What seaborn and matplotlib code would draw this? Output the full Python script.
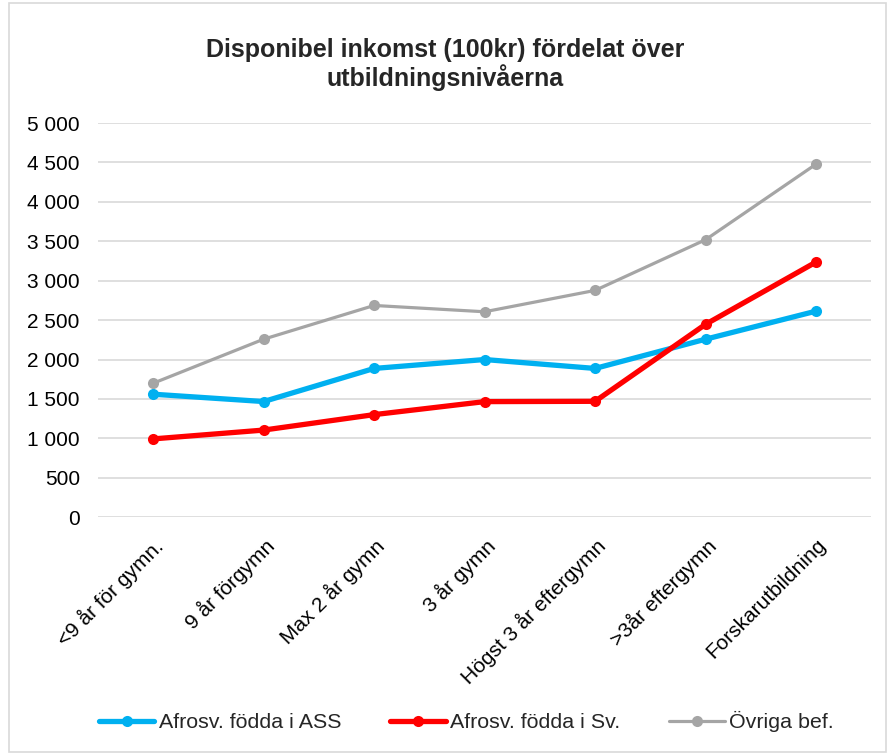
import seaborn as sns
import matplotlib.pyplot as plt
import pandas as pd
from matplotlib.ticker import FuncFormatter
from matplotlib.patches import Rectangle

# data
categories = ['<9 år för gymn.', '9 år förgymn', 'Max 2 år gymn', '3 år gymn',
              'Högst 3 år eftergymn', '>3år eftergymn', 'Forskarutbildning']
ass = [1560, 1467, 1887, 2000, 1887, 2258, 2614]
sv = [993, 1105, 1301, 1466, 1470, 2447, 3237]
ovriga = [1699, 2258, 2686, 2606, 2877, 3520, 4479]
series_names = ['Afrosv. födda i ASS', 'Afrosv. födda i Sv.', 'Övriga bef.']

colors = ['#00B0F0', '#FF0000', '#A5A5A5']
widths = [3.8, 3.8, 2.3]

if __name__ == '__main__':
    sns.set_style("white")
    plt.rcParams['font.family'] = ['Liberation Sans', 'DejaVu Sans']

    fig = plt.figure(figsize=(8.9, 7.55), dpi=100)
    ax = fig.add_axes([0.110, 0.315, 0.869, 0.522])

    # frame around the whole chart
    fig.patches.append(Rectangle((0.010, 0.004), 0.985, 0.992, transform=fig.transFigure,
                                 fill=False, edgecolor='#D9D9D9', linewidth=1.2))

    for name, vals, c, lw in zip(series_names, [ass, sv, ovriga], colors, widths):
        df = pd.DataFrame({'kat': categories, 'varde': vals})
        sns.lineplot(x='kat', y='varde', data=df, ax=ax, color=c, linewidth=lw,
                     marker='o', markersize=8, markeredgewidth=0, sort=False,
                     label=name, estimator=None)

    ax.set_ylim(0, 5000)
    ax.set_xlim(-0.5, len(categories) - 0.5)
    ax.set_yticks(range(0, 5001, 500))
    ax.yaxis.set_major_formatter(FuncFormatter(lambda v, p: f"{int(v):,}".replace(",", " ")))
    ax.grid(axis='y', color='#D9D9D9', linewidth=1.2)
    ax.set_axisbelow(True)
    for s in ax.spines.values():
        s.set_visible(False)
    ax.tick_params(axis='both', length=0, labelsize=15, colors='black')
    ax.tick_params(axis='y', pad=13)
    ax.tick_params(axis='x', pad=13)
    plt.setp(ax.get_xticklabels(), rotation=45, ha='right', rotation_mode='anchor')
    ax.set_xlabel('')
    ax.set_ylabel('')

    fig.suptitle('Disponibel inkomst (100kr) fördelat över\nutbildningsnivåerna',
                 y=0.95, fontsize=18, fontweight='bold', linespacing=1.1)

    leg = ax.legend(loc='center', ncol=3, frameon=False, fontsize=15.4, handlelength=2.6,
                    columnspacing=2.3, handletextpad=0.2)
    leg.set_bbox_to_anchor((0.524, 0.044), transform=fig.transFigure)

    plt.savefig('out.png', dpi=100)
